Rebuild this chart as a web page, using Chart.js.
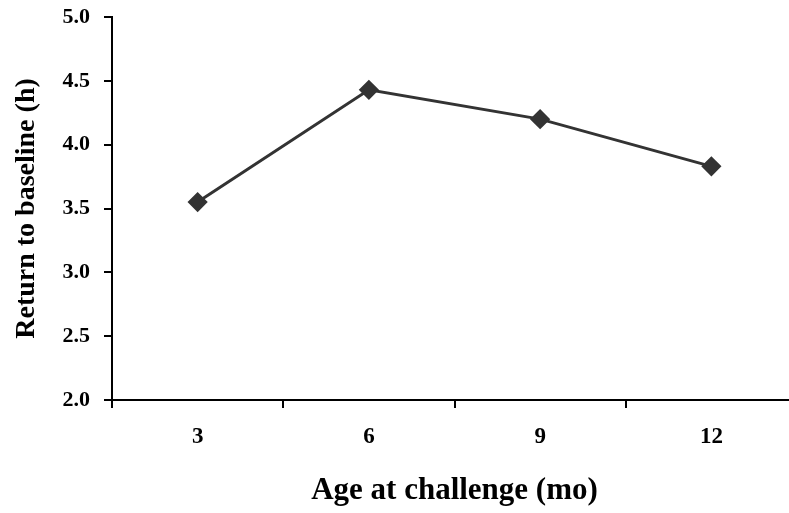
<!DOCTYPE html>
<html>
<head>
<meta charset="utf-8">
<script src="https://cdn.jsdelivr.net/npm/chart.js@4.4.1/dist/chart.umd.min.js"></script>
<style>
  html, body { margin: 0; padding: 0; background: #fff; overflow: hidden; }
  #wrap { width: 808px; height: 513px; position: relative; }
</style>
</head>
<body>
<div id="wrap"><canvas id="chart"></canvas></div>
<script>
const ages = ["3", "6", "9", "12"];
const returnHours = [3.55, 4.43, 4.20, 3.83];
const yTicks = [2.0, 2.5, 3.0, 3.5, 4.0, 4.5, 5.0];

const serif = "'Liberation Serif', 'Times New Roman', serif";

const config = {
  type: "line",
  data: {
    labels: ages,
    datasets: [
      {
        data: returnHours,
        borderColor: "#333333",
        backgroundColor: "#333333",
        borderWidth: 3,
        pointStyle: "rectRot",
        pointRadius: 8,
        pointHoverRadius: 8,
        tension: 0,
      },
    ],
  },
  options: {
    responsive: true,
    maintainAspectRatio: false,
    animation: false,
    layout: { padding: { top: 17, right: 4, left: 0, bottom: 0 } },
    plugins: {
      legend: { display: false },
      tooltip: { enabled: false },
    },
    scales: {
      x: {
        type: "category",
        offset: true,
        afterFit: (axis) => {
          axis.height = 113;
          axis.paddingLeft = 0;
          axis.paddingRight = 0;
        },
        grid: {
          offset: true,
          drawOnChartArea: false,
          color: "#000",
          lineWidth: 2,
          tickLength: 8,
        },
        border: { color: "#000", width: 2 },
        ticks: {
          color: "#000",
          padding: 15,
          font: { family: serif, size: 23, weight: "bold" },
        },
        title: {
          display: true,
          text: "Age at challenge (mo)",
          color: "#000",
          padding: { top: 0, bottom: 3 },
          font: { family: serif, size: 31, weight: "bold" },
        },
      },
      y: {
        min: 2,
        max: 5,
        afterFit: (axis) => {
          axis.width = 112;
          axis.paddingTop = 0;
          axis.paddingBottom = 0;
        },
        afterBuildTicks: (axis) => {
          axis.ticks = yTicks.map((v) => ({ value: v }));
        },
        grid: {
          drawOnChartArea: false,
          color: "#000",
          lineWidth: 2,
          tickLength: 8,
        },
        border: { color: "#000", width: 2 },
        ticks: {
          color: "#000",
          padding: 14,
          callback: (v) => Number(v).toFixed(1),
          font: { family: serif, size: 22, weight: "bold" },
        },
        title: {
          display: true,
          text: "Return to baseline (h)",
          color: "#000",
          padding: { top: 10, bottom: 0 },
          font: { family: serif, size: 28, weight: "bold" },
        },
      },
    },
  },
};

new Chart(document.getElementById("chart"), config);
</script>
</body>
</html>
